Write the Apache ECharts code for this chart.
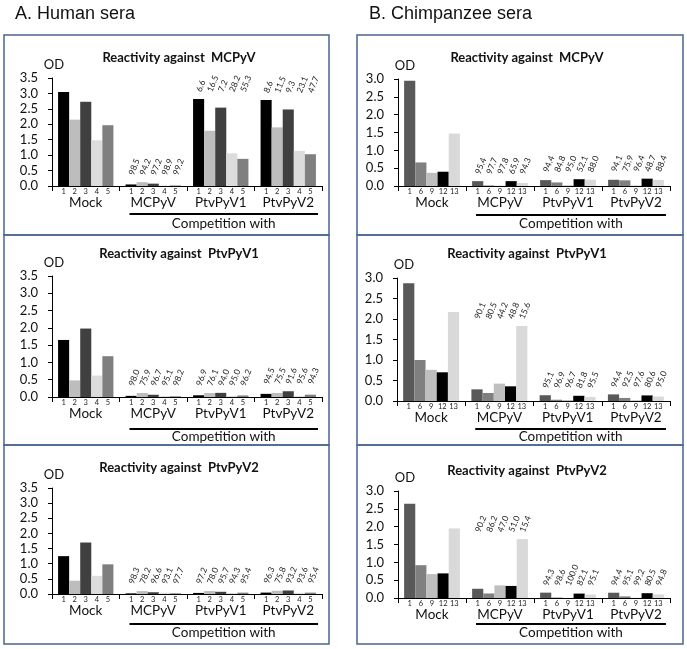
<!DOCTYPE html>
<html>
<head>
<meta charset="utf-8">
<script src="https://cdn.jsdelivr.net/npm/echarts@6/dist/echarts.min.js"></script>
<style>
  html, body { margin: 0; padding: 0; background: #fff; }
  #main { width: 687px; height: 649px; }
</style>
</head>
<body>
<div id="main"></div>
<script>
var groups = ["Mock", "MCPyV", "PtvPyV1", "PtvPyV2"];
var humanSera = ["1", "2", "3", "4", "5"];
var chimpSera = ["1", "6", "9", "12", "13"];
var humanColors = ["#000000", "#bdbdbd", "#404040", "#dcdcdc", "#7f7f7f"];
var chimpColors = ["#595959", "#808080", "#bfbfbf", "#000000", "#d9d9d9"];

// values per serum, across the 4 groups (Mock, MCPyV, PtvPyV1, PtvPyV2)
var humanVsMCPyV = [
  [3.05, 0.05, 2.82, 2.79],
  [2.15, 0.125, 1.79, 1.90],
  [2.73, 0.076, 2.54, 2.48],
  [1.48, 0.016, 1.06, 1.14],
  [1.97, 0.016, 0.88, 1.03]
];
var humanVsMCPyVPct = [
  ["98.5", "6.6", "8.6"],
  ["94.2", "16.5", "11.5"],
  ["97.2", "7.2", "9.3"],
  ["98.9", "28.2", "23.1"],
  ["99.2", "55.3", "47.7"]
];
var humanVsPtv1 = [
  [1.65, 0.033, 0.05, 0.09],
  [0.48, 0.116, 0.115, 0.118],
  [1.98, 0.065, 0.12, 0.166],
  [0.62, 0.03, 0.031, 0.027],
  [1.18, 0.021, 0.045, 0.067]
];
var humanVsPtv1Pct = [
  ["98.0", "96.9", "94.5"],
  ["75.9", "76.1", "75.5"],
  ["96.7", "94.0", "91.6"],
  ["95.1", "95.0", "95.6"],
  ["98.2", "96.2", "94.3"]
];
var humanVsPtv2 = [
  [1.25, 0.021, 0.035, 0.046],
  [0.44, 0.096, 0.097, 0.106],
  [1.70, 0.058, 0.073, 0.116],
  [0.60, 0.041, 0.034, 0.038],
  [0.98, 0.023, 0.045, 0.045]
];
var humanVsPtv2Pct = [
  ["98.3", "97.2", "96.3"],
  ["78.2", "78.0", "75.8"],
  ["96.6", "95.7", "93.2"],
  ["93.1", "94.3", "93.6"],
  ["97.7", "95.4", "95.4"]
];
var chimpVsMCPyV = [
  [2.95, 0.136, 0.165, 0.174],
  [0.66, 0.015, 0.10, 0.159],
  [0.37, 0.008, 0.018, 0.013],
  [0.40, 0.136, 0.19, 0.205],
  [1.47, 0.084, 0.176, 0.17]
];
var chimpVsMCPyVPct = [
  ["95.4", "94.4", "94.1"],
  ["97.7", "84.8", "75.9"],
  ["97.8", "95.0", "96.4"],
  ["65.9", "52.1", "48.7"],
  ["94.3", "88.0", "88.4"]
];
var chimpVsPtv1 = [
  [2.87, 0.284, 0.141, 0.161],
  [1.00, 0.195, 0.031, 0.075],
  [0.76, 0.424, 0.025, 0.018],
  [0.70, 0.358, 0.127, 0.136],
  [2.17, 1.83, 0.098, 0.109]
];
var chimpVsPtv1Pct = [
  ["90.1", "95.1", "94.4"],
  ["80.5", "96.9", "92.5"],
  ["44.2", "96.7", "97.6"],
  ["48.8", "81.8", "80.6"],
  ["15.6", "95.5", "95.0"]
];
var chimpVsPtv2 = [
  [2.64, 0.259, 0.150, 0.148],
  [0.92, 0.127, 0.013, 0.045],
  [0.67, 0.355, 0.002, 0.005],
  [0.69, 0.338, 0.124, 0.135],
  [1.95, 1.65, 0.096, 0.101]
];
var chimpVsPtv2Pct = [
  ["90.2", "94.3", "94.4"],
  ["86.2", "98.6", "95.1"],
  ["47.0", "100.0", "99.2"],
  ["51.0", "82.1", "80.5"],
  ["15.4", "95.1", "94.8"]
];

var panels = [
  { values: humanVsMCPyV, pct: humanVsMCPyVPct, sera: humanSera, colors: humanColors, target: "MCPyV", max: 3.5 },
  { values: humanVsPtv1, pct: humanVsPtv1Pct, sera: humanSera, colors: humanColors, target: "PtvPyV1", max: 3.5 },
  { values: humanVsPtv2, pct: humanVsPtv2Pct, sera: humanSera, colors: humanColors, target: "PtvPyV2", max: 3.5 },
  { values: chimpVsMCPyV, pct: chimpVsMCPyVPct, sera: chimpSera, colors: chimpColors, target: "MCPyV", max: 3.0 },
  { values: chimpVsPtv1, pct: chimpVsPtv1Pct, sera: chimpSera, colors: chimpColors, target: "PtvPyV1", max: 3.0 },
  { values: chimpVsPtv2, pct: chimpVsPtv2Pct, sera: chimpSera, colors: chimpColors, target: "PtvPyV2", max: 3.0 }
];

// layout: grid boxes, title / competition positions
var layout = [
  { left: 52, top: 78, width: 270, height: 108, titleY: 53, lineY: 214, compY: 224, cx: 174 },
  { left: 52, top: 276, width: 270, height: 121, titleY: 249, lineY: 429, compY: 437, cx: 174 },
  { left: 52, top: 488, width: 270, height: 106, titleY: 463, lineY: 624, compY: 633, cx: 174 },
  { left: 398, top: 79, width: 272, height: 107, titleY: 53, lineY: 215, compY: 224, cx: 522 },
  { left: 397, top: 278, width: 273, height: 123, titleY: 249, lineY: 429, compY: 437, cx: 522 },
  { left: 398, top: 491, width: 272, height: 107, titleY: 466, lineY: 624, compY: 633, cx: 522 }
];

var FONT = "Lato, 'Open Sans', sans-serif";
var boxColor = "#4a6591";

var chart = echarts.init(document.getElementById("main"));

var grids = [], xAxes = [], yAxes = [], series = [], titles = [], graphics = [];

panels.forEach(function (p, pi) {
  var L = layout[pi];
  grids.push({ left: L.left, top: L.top, width: L.width, height: L.height, outerBoundsMode: "none", containLabel: false });
  xAxes.push({
    type: "category", gridIndex: pi, data: groups,
    axisLine: { show: true, lineStyle: { color: "#000", width: 1 } },
    axisTick: { show: true, length: 5, lineStyle: { color: "#000" } },
    axisLabel: { interval: 0, hideOverlap: false, margin: 10, fontSize: 13.5, color: "#111", fontFamily: FONT },
    splitLine: { show: false }
  });
  yAxes.push({
    type: "value", gridIndex: pi, min: 0, max: p.max, interval: 0.5,
    name: "OD", nameLocation: "end", nameGap: 7,
    nameTextStyle: { fontSize: 13, color: "#111", fontFamily: FONT, padding: pi < 3 ? [0, 0, 0, 4] : [0, 0, 0, 14] },
    axisLine: { show: true, lineStyle: { color: "#000", width: 1 } },
    axisTick: { show: true, length: 4, lineStyle: { color: "#000" } },
    axisLabel: { margin: 14, fontSize: 13, color: "#111", fontFamily: FONT, formatter: function (v) { return v.toFixed(1); } },
    splitLine: { show: false }
  });

  // tallest bar per group (for placing the % labels)
  var groupMax = groups.map(function (g, gi) {
    return Math.max.apply(null, p.values.map(function (row) { return row[gi]; }));
  });

  p.sera.forEach(function (s, si) {
    series.push({
      type: "bar", name: s, xAxisIndex: pi, yAxisIndex: pi,
      data: p.values[si], barGap: 0, barCategoryGap: "18%",
      itemStyle: { color: p.colors[si] },
      label: { show: true, position: "bottom", distance: 2, formatter: s, fontSize: 7.5, color: "#222", fontFamily: FONT },
      markPoint: {
        symbol: "rect", symbolSize: 1, silent: true,
        itemStyle: { color: "rgba(0,0,0,0)" },
        label: {
          show: true, position: "top", distance: 7, align: "left", verticalAlign: "middle",
          rotate: 68, fontSize: 8.5, color: "#222", fontFamily: FONT,
          formatter: function (d) { return d.name; }
        },
        data: groups.slice(1).map(function (g, k) {
          return { name: p.pct[si][k], coord: [g, groupMax[k + 1]] };
        })
      }
    });
  });

  titles.push({
    text: "Reactivity against  " + p.target,
    left: L.cx, top: L.titleY, textAlign: "center", textVerticalAlign: "middle",
    textStyle: { fontSize: 13, fontWeight: "bold", color: "#111", fontFamily: FONT }
  });

  var gw = L.width / 4;
  var x1 = L.left + gw + 10, x2 = L.left + L.width - 4;
  graphics.push({ type: "line", shape: { x1: x1, y1: L.lineY, x2: x2, y2: L.lineY }, style: { stroke: "#000", lineWidth: 1.8 } });
  graphics.push({
    type: "text", x: (x1 + x2) / 2, y: L.compY,
    style: { text: "Competition with", align: "center", verticalAlign: "middle", fontSize: 13.5, fill: "#111", fontFamily: FONT }
  });
});

// panel frames
var frames = [
  [4, 35, 325, 200], [4, 235, 325, 210], [4, 445, 325, 199],
  [357, 35, 326, 200], [357, 235, 326, 210], [357, 445, 326, 199]
];
frames.forEach(function (f) {
  graphics.push({ type: "rect", z: -1, shape: { x: f[0], y: f[1], width: f[2], height: f[3] }, style: { fill: "none", stroke: boxColor, lineWidth: 1.5 } });
});
graphics.push({ type: "text", x: 15, y: 14, style: { text: "A. Human sera", verticalAlign: "middle", fontSize: 18, fill: "#111", fontFamily: "'Liberation Sans Narrow', 'Liberation Sans', sans-serif" } });
graphics.push({ type: "text", x: 369, y: 14, style: { text: "B. Chimpanzee sera", verticalAlign: "middle", fontSize: 18, fill: "#111", fontFamily: "'Liberation Sans Narrow', 'Liberation Sans', sans-serif" } });

var option = {
  animation: false,
  backgroundColor: "#fff",
  title: titles,
  grid: grids,
  xAxis: xAxes,
  yAxis: yAxes,
  series: series,
  graphic: graphics
};

option && chart.setOption(option);
</script>
</body>
</html>
